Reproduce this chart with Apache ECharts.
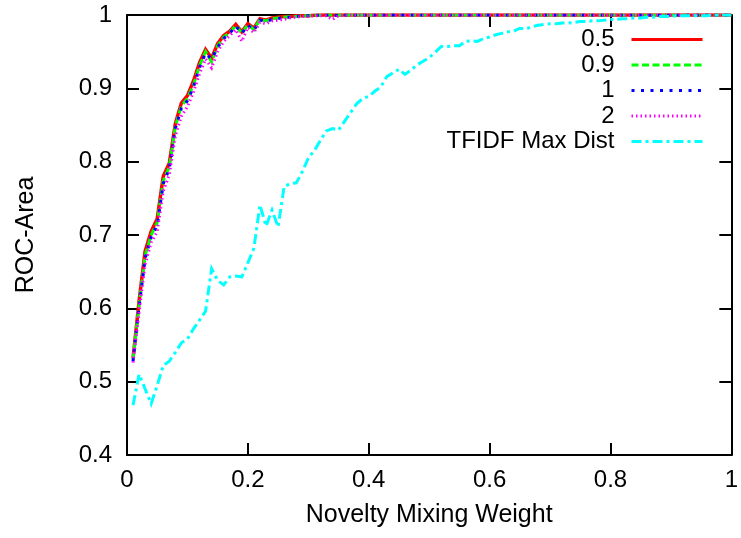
<!DOCTYPE html>
<html><head><meta charset="utf-8">
<script src="https://cdn.jsdelivr.net/npm/echarts@6/dist/echarts.min.js"></script>
<style>html,body{margin:0;padding:0;background:#fff}#c{width:741px;height:538px}</style>
</head><body><div id="c"></div>
<script>
const xValues = [
0.01,0.02,0.03,0.04,0.05,0.06,0.07,0.08,0.09,0.10,
0.11,0.12,0.13,0.14,0.15,0.16,0.17,0.18,0.19,0.20,
0.21,0.22,0.23,0.24,0.25,0.26,0.27,0.28,0.29,0.30,
0.31,0.32,0.33,0.34,0.35,0.36,0.37,0.38,0.39,0.40,
0.41,0.42,0.43,0.44,0.45,0.46,0.47,0.48,0.49,0.50,
0.51,0.52,0.53,0.54,0.55,0.56,0.57,0.58,0.59,0.60,
0.61,0.62,0.63,0.64,0.65,0.66,0.67,0.68,0.69,0.70,
0.71,0.72,0.73,0.74,0.75,0.76,0.77,0.78,0.79,0.80,
0.81,0.82,0.83,0.84,0.85,0.86,0.87,0.88,0.89,0.90,
0.91,0.92,0.93,0.94,0.95,0.96,0.97,0.98,0.99,1.00];

const s05 = [
0.532,0.610,0.678,0.705,0.722,0.780,0.798,0.852,0.880,0.890,
0.910,0.935,0.953,0.941,0.961,0.972,0.978,0.987,0.977,0.988,
0.982,0.995,0.993,0.996,0.997,0.998,0.998,0.999,0.999,0.999,
0.9995,1,1,1,1,1,1,1,1,1,
1,1,1,1,1,1,1,1,1,1,
1,1,1,1,1,1,1,1,1,1,
1,1,1,1,1,1,1,1,1,1,
1,1,1,1,1,1,1,1,1,1,
1,1,1,1,1,1,1,1,1,1,
1,1,1,1,1,1,1,1,1,1];

const s09 = [
0.530,0.605,0.672,0.700,0.717,0.774,0.793,0.848,0.876,0.886,
0.905,0.931,0.950,0.936,0.958,0.970,0.976,0.986,0.975,0.987,
0.980,0.994,0.992,0.995,0.996,0.997,0.998,0.998,0.999,0.999,
0.9995,0.9995,1,1,1,1,1,1,1,1,
1,1,1,1,1,1,1,1,1,1,
1,1,1,1,1,1,1,1,1,1,
1,1,1,1,1,1,1,1,1,1,
1,1,1,1,1,1,1,1,1,1,
1,1,1,1,1,1,1,1,1,1,
1,1,1,1,1,1,1,1,1,1];

const s1 = [
0.528,0.602,0.668,0.697,0.713,0.770,0.790,0.845,0.873,0.883,
0.902,0.928,0.948,0.940,0.956,0.968,0.975,0.985,0.975,0.986,
0.979,0.993,0.991,0.994,0.995,0.997,0.997,0.998,0.999,0.999,
0.9995,0.9995,1,1,0.999,1,1,1,1,1,
1,1,1,1,1,1,1,1,1,1,
1,1,1,1,1,1,1,1,1,1,
1,1,1,1,1,1,1,1,1,1,
1,1,1,1,1,1,1,1,1,1,
1,1,1,1,1,1,1,1,1,1,
1,1,1,1,1,1,1,1,1,1];

const s2 = [
0.526,0.595,0.660,0.690,0.705,0.760,0.782,0.835,0.862,0.875,
0.895,0.920,0.940,0.928,0.950,0.964,0.972,0.980,0.964,0.983,
0.976,0.990,0.988,0.992,0.993,0.994,0.996,0.997,0.998,0.998,
0.999,0.999,0.999,0.994,0.999,1,1,1,1,1,
1,1,1,1,1,1,1,1,1,1,
1,1,1,1,1,1,1,1,1,1,
1,1,1,1,1,1,1,1,1,1,
1,1,1,1,1,1,1,1,1,1,
1,1,1,1,1,1,1,1,1,1,
1,1,1,1,1,1,1,1,1,1];

const tfidf = [
0.468,0.510,0.490,0.470,0.495,0.522,0.528,0.540,0.553,0.558,
0.572,0.584,0.596,0.654,0.638,0.632,0.643,0.644,0.643,0.662,
0.682,0.741,0.712,0.734,0.711,0.766,0.770,0.771,0.786,0.805,
0.815,0.829,0.842,0.845,0.843,0.855,0.867,0.879,0.886,0.889,
0.896,0.902,0.916,0.921,0.926,0.919,0.925,0.932,0.937,0.942,
0.949,0.957,0.957,0.958,0.958,0.964,0.965,0.964,0.968,0.970,
0.973,0.975,0.977,0.978,0.982,0.981,0.984,0.986,0.987,0.988,
0.988,0.989,0.989,0.990,0.991,0.991,0.992,0.992,0.993,0.994,
0.994,0.995,0.995,0.996,0.996,0.997,0.997,0.998,0.998,0.998,
0.999,0.999,0.999,0.999,0.999,0.999,1,1,1,1];

const seriesNames = ['0.5', '0.9', '1', '2', 'TFIDF Max Dist'];
const xTicks = [0, 0.2, 0.4, 0.6, 0.8, 1];
const yTicks = [0.4, 0.5, 0.6, 0.7, 0.8, 0.9, 1];

const FONT = 'Liberation Sans, Arial, Helvetica, sans-serif';
const pairs = arr => xValues.map((x, i) => [x, arr[i]]);

const styles = [
  {color: '#ff0000', width: 3.5, type: 'solid'},
  {color: '#00ff00', width: 3, type: [7, 3.5]},
  {color: '#0000ff', width: 3, type: [3, 6.5]},
  {color: '#ff00ff', width: 3, type: [1.5, 3]},
  {color: '#00ffff', width: 3, type: [10, 4, 3, 4]}
];
const datasets = [s05, s09, s1, s2, tfidf];

const axisCommon = {
  axisLine: {show: true, onZero: false, lineStyle: {color: '#000', width: 2}},
  axisTick: {show: true, inside: true, length: 12, lineStyle: {color: '#000', width: 2}},
  splitLine: {show: false}
};

const chart = echarts.init(document.getElementById('c'), null, {renderer: 'canvas'});
chart.setOption({
  animation: false,
  backgroundColor: '#fff',
  textStyle: {fontFamily: FONT},
  grid: {left: 127, right: 7, top: 15, bottom: 83, containLabel: false},
  legend: {
    orient: 'vertical',
    align: 'right',
    right: 37,
    top: 27,
    padding: 0,
    itemGap: 0.5,
    itemWidth: 71,
    itemHeight: 14,
    data: seriesNames,
    lineStyle: {width: 3},
    itemStyle: {opacity: 0},
    textStyle: {fontFamily: FONT, fontSize: 24, color: '#000', lineHeight: 25, padding: [0, 12, 0, 0]}
  },
  xAxis: [
    Object.assign({
      type: 'value', min: 0, max: 1, interval: 0.2, position: 'bottom',
      name: 'Novelty Mixing Weight', nameLocation: 'middle', nameGap: 48,
      nameTextStyle: {fontFamily: FONT, fontSize: 25, color: '#000'},
      axisLabel: {margin: 13, fontFamily: FONT, fontSize: 24, color: '#000',
        formatter: v => xTicks.indexOf(Math.round(v * 10) / 10) >= 0 ? String(Math.round(v * 10) / 10) : ''}
    }, axisCommon),
    Object.assign({
      type: 'value', min: 0, max: 1, interval: 0.2, position: 'top',
      axisLabel: {show: false}
    }, axisCommon)
  ],
  yAxis: [
    Object.assign({
      type: 'value', min: 0.4, max: 1, interval: 0.1, position: 'left',
      name: 'ROC-Area', nameLocation: 'middle', nameGap: 88, nameRotate: 90,
      nameTextStyle: {fontFamily: FONT, fontSize: 25, color: '#000'},
      axisLabel: {margin: 15, fontFamily: FONT, fontSize: 24, color: '#000',
        formatter: v => String(Math.round(v * 10) / 10)}
    }, axisCommon),
    Object.assign({
      type: 'value', min: 0.4, max: 1, interval: 0.1, position: 'right',
      axisLabel: {show: false}
    }, axisCommon)
  ],
  series: seriesNames.map((name, i) => ({
    name: name,
    type: 'line',
    xAxisIndex: 0,
    yAxisIndex: 0,
    data: pairs(datasets[i]),
    symbol: 'none',
    showSymbol: false,
    clip: true,
    color: styles[i].color,
    itemStyle: {color: styles[i].color},
    lineStyle: {color: styles[i].color, width: styles[i].width, type: styles[i].type, cap: 'butt', join: 'miter'},
    emphasis: {disabled: true},
    z: 2 + i
  }))
});
</script>
</body></html>
